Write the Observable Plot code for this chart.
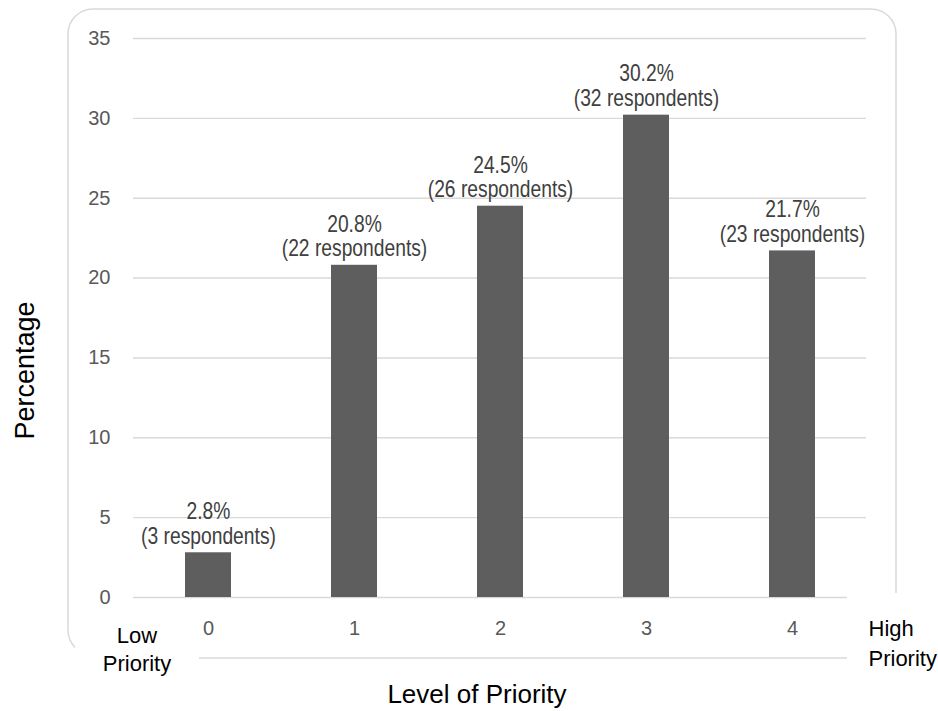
<!DOCTYPE html>
<html>
<head>
<meta charset="utf-8">
<script src="https://cdn.jsdelivr.net/npm/d3@7"></script>
<script src="https://cdn.jsdelivr.net/npm/@observablehq/plot@0.6"></script>
<style>
  html, body { margin: 0; padding: 0; background: #fff; }
  #chart svg { display: block; }
</style>
</head>
<body>
<div id="chart"></div>
<script>
const levels = ["0", "1", "2", "3", "4"];
const percentages = [2.8, 20.8, 24.5, 30.2, 21.7];
const respondents = [3, 22, 26, 32, 23];
const yTicks = [0, 5, 10, 15, 20, 25, 30, 35];
const yLabel = "Percentage";
const xLabel = "Level of Priority";
const lowLabel = "Low\nPriority";
const highLabel = "High\nPriority";

const data = levels.map((level, i) => ({
  level,
  pct: percentages[i],
  n: respondents[i],
  label: `${percentages[i]}%\n(${respondents[i]} respondents)`
}));

const grid = "#d9d9d9";
const font = "'Liberation Sans', Arial, sans-serif";

const chart = Plot.plot({
  width: 938,
  height: 711,
  marginLeft: 133,
  marginRight: 72,
  marginTop: 38,
  marginBottom: 114,
  style: { fontFamily: font, background: "white", overflow: "visible" },
  x: { type: "band", domain: levels, paddingInner: 0.686, paddingOuter: 0.343 },
  y: { domain: [0, 35] },
  marks: [
    Plot.ruleY(yTicks.filter(t => t > 0), { stroke: grid, strokeWidth: 1.4 }),
    Plot.ruleY([0], { stroke: grid, strokeWidth: 1.4, insetRight: 19 }),
    Plot.barY(data, { x: "level", y: "pct", fill: "#5e5e5e" }),
    Plot.axisY({ ticks: yTicks, tickSize: 0, tickPadding: 23, fontSize: 20, fill: "#595959", label: null }),
    Plot.axisX({ tickSize: 0, tickPadding: 23, fontSize: 20, fill: "#595959", label: null }),
    Plot.text(data, {
      x: "level", y: "pct", text: "label",
      lineAnchor: "bottom", lineHeight: 1.05, dy: -9,
      fontSize: 23.5, fill: "#404040"
    }),
    Plot.text([yLabel], {
      frameAnchor: "left", rotate: -90, textAnchor: "middle", lineAnchor: "middle",
      dx: -108.6, dy: 52.5, fontSize: 27, fill: "#000"
    }),
    Plot.text([xLabel], {
      frameAnchor: "bottom", textAnchor: "middle", lineAnchor: "bottom",
      dx: -23, dy: 105, fontSize: 26, fill: "#000"
    }),
    Plot.text([lowLabel], {
      frameAnchor: "bottom-left", textAnchor: "middle", lineAnchor: "top",
      lineHeight: 1.3, dx: 3.5, dy: 25, fontSize: 22, fill: "#000"
    }),
    Plot.text([highLabel], {
      frameAnchor: "bottom-right", textAnchor: "start", lineAnchor: "top",
      lineHeight: 1.35, dx: 2, dy: 17.4, fontSize: 22, fill: "#000"
    })
  ]
});

document.getElementById("chart").appendChild(chart);

// the reference uses a narrow face for the value labels: compress them horizontally
d3.select(chart).selectAll("text").each(function () {
  if (!/respondents/.test(this.textContent)) return;
  let t = this.getAttribute("transform");
  if (!t) {
    const x = +(this.getAttribute("x") || 0), y = +(this.getAttribute("y") || 0);
    this.removeAttribute("x"); this.removeAttribute("y");
    t = `translate(${x},${y})`;
  }
  this.setAttribute("transform", `${t} scale(0.82,1)`);
});

// decorative chart-area border (partially hidden at the bottom) and lower rule
const svg = d3.select(chart);
const deco = svg.insert("g", ":first-child").attr("aria-label", "chart border");
deco.append("path")
  .attr("d", "M896,593 V34 A25,25 0 0 0 871,9 H93 A25,25 0 0 0 68,34 V630 A25,25 0 0 0 75,647.4")
  .attr("fill", "none").attr("stroke", grid).attr("stroke-width", 1.5);
deco.append("line")
  .attr("x1", 199).attr("x2", 847).attr("y1", 658).attr("y2", 658)
  .attr("stroke", grid).attr("stroke-width", 1.5);
</script>
</body>
</html>
